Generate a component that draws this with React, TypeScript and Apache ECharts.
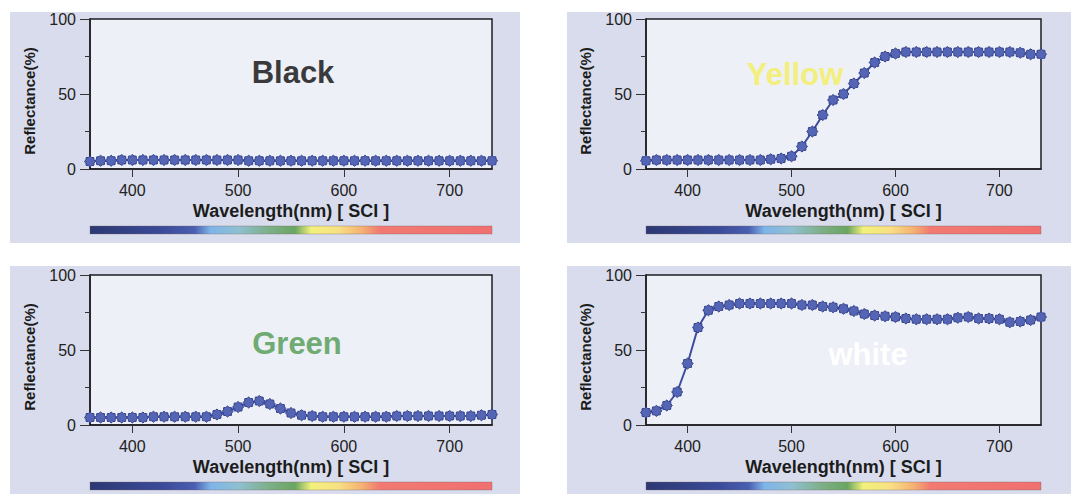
import React, { useEffect, useRef } from "react";
import * as echarts from "echarts";

// Wavelength samples (nm), one every 10 nm across the measured range
const wavelengths = [
  360, 370, 380, 390, 400, 410, 420, 430, 440, 450, 460, 470, 480, 490, 500, 510, 520, 530, 540, 550,
  560, 570, 580, 590, 600, 610, 620, 630, 640, 650, 660, 670, 680, 690, 700, 710, 720, 730, 740,
];

// Reflectance (%) per sample
const blackValues = [
  5, 5.5, 5.5, 6, 6, 6, 6, 6, 6, 6, 6, 6, 6, 6, 6, 5.5, 5.5, 5.5, 5.5, 5.5,
  5.5, 5.5, 5.5, 5.5, 5.5, 5.5, 5.5, 5.5, 5.5, 5.5, 5.5, 5.5, 5.5, 5.5, 5.5, 5.5, 5.5, 5.5, 5.5,
];
const yellowValues = [
  5.5, 6, 6, 6, 6, 6, 6, 6, 6, 6, 6, 6, 6.5, 7, 8.5, 15, 25, 36, 46, 50,
  57, 64, 71, 75, 77, 78, 78, 78, 78, 78, 78, 78, 78, 78, 78, 78, 77.5, 76.5, 76.5,
];
const greenValues = [
  5, 5, 5, 5, 5, 5, 5.5, 5.5, 5.5, 5.5, 5.5, 5.5, 7, 9, 12, 15, 16, 14, 11, 8,
  6.5, 6, 5.5, 5.5, 5.5, 5.5, 5.5, 5.5, 5.5, 6, 6, 6, 6, 6, 6, 6, 6, 6.5, 7,
];
const whiteValues = [
  8.3, 9.4, 13, 22, 41, 65, 76.5, 79, 80, 81, 81, 81, 81, 81, 81, 80, 80, 79, 78.5, 77.5,
  76, 74, 73, 72.5, 72, 71, 70.5, 70.5, 70.5, 70.5, 71.5, 72, 71, 71, 70.5, 68.5, 69, 70, 72,
];

const panelNames = ["Black", "Yellow", "Green", "white"];
const panelNameColors = ["#3a3a3c", "#f3ef7c", "#6fab72", "#ffffff"];
const seriesValues = [blackValues, yellowValues, greenValues, whiteValues];

const xTickValues = [400, 500, 600, 700];
const xAxisTitle = "Wavelength(nm) [ SCI ]";
const yAxisTitle = "Reflectance(%)";

// Panel layout: plot rectangle, panel card and name label placement
const plots = [
  { left: 90, top: 19, width: 402, height: 150 },
  { left: 646, top: 19, width: 395, height: 150 },
  { left: 90, top: 275, width: 402, height: 150 },
  { left: 646, top: 275, width: 395, height: 150 },
];
const cards = [
  { x: 10, y: 12, w: 510, h: 231 },
  { x: 567, y: 12, w: 504, h: 231 },
  { x: 10, y: 266, w: 510, h: 228 },
  { x: 567, y: 266, w: 504, h: 228 },
];
const labelPos = [
  { x: 293, y: 72 },
  { x: 795, y: 74 },
  { x: 297, y: 343 },
  { x: 868, y: 354 },
];

const FONT = '"Liberation Sans", Arial, sans-serif';

// Gear-like marker outline
function gearSymbol(lobes: number, outer: number, inner: number): string {
  const pts: string[] = [];
  const n = lobes * 2;
  for (let i = 0; i < n; i++) {
    const r = i % 2 === 0 ? outer : inner;
    const a = (Math.PI * 2 * i) / n;
    pts.push(`${(50 + r * Math.cos(a)).toFixed(2)} ${(50 + r * Math.sin(a)).toFixed(2)}`);
  }
  return "path://M" + pts.join(" L") + " Z";
}
const markerPath = gearSymbol(8, 50, 40);

const spectrumGradient = () =>
  new echarts.graphic.LinearGradient(0, 0, 1, 0, [
    { offset: 0, color: "#2c3872" },
    { offset: 0.18, color: "#3a4a98" },
    { offset: 0.26, color: "#4a5fb0" },
    { offset: 0.3, color: "#7eb4ea" },
    { offset: 0.37, color: "#8fc0d0" },
    { offset: 0.45, color: "#7cae84" },
    { offset: 0.51, color: "#6aa662" },
    { offset: 0.55, color: "#f2f27a" },
    { offset: 0.62, color: "#f8df84" },
    { offset: 0.68, color: "#f4ae72" },
    { offset: 0.72, color: "#f27a72" },
    { offset: 1, color: "#f07070" },
  ]);

export default function App() {
  const ref = useRef<HTMLDivElement>(null);

  useEffect(() => {
    if (!ref.current) return;
    const chart = echarts.init(ref.current, undefined, { renderer: "svg" });

    const graphics: any[] = [];
    cards.forEach((c) => {
      graphics.push({
        type: "rect",
        z: -10,
        shape: { x: c.x, y: c.y, width: c.w, height: c.h },
        style: { fill: "#d9dcec" },
      });
    });
    plots.forEach((p) => {
      graphics.push({
        type: "rect",
        z: 10,
        shape: { x: p.left, y: p.top + 207, width: p.width, height: 8 },
        style: { fill: spectrumGradient(), stroke: "rgba(120,100,110,0.45)", lineWidth: 0.8 },
      });
    });
    panelNames.forEach((name, i) => {
      graphics.push({
        type: "text",
        z: 100,
        x: labelPos[i].x,
        y: labelPos[i].y,
        style: {
          text: name,
          fill: panelNameColors[i],
          font: `bold 31px ${FONT}`,
          align: "center",
          verticalAlign: "middle",
        },
      });
    });

    const option: any = {
      animation: false,
      backgroundColor: "#ffffff",
      graphic: graphics,
      grid: plots.map((p) => ({
        left: p.left,
        top: p.top,
        width: p.width,
        height: p.height,
        show: true,
        backgroundColor: "#eef0f7",
        borderColor: "#1e1e22",
        borderWidth: 1.5,
        containLabel: false,
      })),
      xAxis: plots.map((_, i) => ({
        type: "value",
        gridIndex: i,
        min: 360,
        max: 740,
        splitLine: { show: false },
        axisLine: { show: true, onZero: false, lineStyle: { color: "#1e1e22", width: 1.5 } },
        axisTick: {
          show: true,
          customValues: xTickValues,
          length: 8,
          lineStyle: { color: "#333", width: 1 },
        },
        axisLabel: {
          customValues: xTickValues,
          fontFamily: FONT,
          fontSize: 16,
          color: "#222",
          margin: 13,
        },
        name: xAxisTitle,
        nameLocation: "middle",
        nameGap: 33,
        nameTextStyle: { fontFamily: FONT, fontSize: 18, fontWeight: "bold", color: "#1c1c1c" },
      })),
      yAxis: plots.map((_, i) => ({
        type: "value",
        gridIndex: i,
        min: 0,
        max: 100,
        interval: 50,
        splitLine: { show: false },
        axisLine: { show: true, lineStyle: { color: "#1e1e22", width: 1.5 } },
        axisTick: { show: true, length: 10, lineStyle: { color: "#333", width: 1 } },
        minorTick: { show: true, splitNumber: 2, length: 5, lineStyle: { color: "#333", width: 1 } },
        axisLabel: { fontFamily: FONT, fontSize: 16, color: "#222", margin: 14 },
        name: yAxisTitle,
        nameLocation: "middle",
        nameGap: 53,
        nameTextStyle: {
          fontFamily: FONT,
          fontSize: 15,
          fontWeight: "bold",
          color: "#1c1c1c",
          padding: [0, 0, 0, -14],
        },
      })),
      series: seriesValues.map((vals, i) => ({
        type: "line",
        xAxisIndex: i,
        yAxisIndex: i,
        data: wavelengths.map((w, k) => [w, vals[k]]),
        symbol: markerPath,
        symbolSize: 11,
        showSymbol: true,
        clip: true,
        lineStyle: { color: "#3e4c9e", width: 2 },
        itemStyle: { color: "#5565b6", borderColor: "#33408a", borderWidth: 1 },
      })),
    };

    chart.setOption(option);
    return () => chart.dispose();
  }, []);

  return (
    <div
      ref={ref}
      style={{ position: "absolute", left: 0, top: 0, width: 1071, height: 494 }}
    />
  );
}
